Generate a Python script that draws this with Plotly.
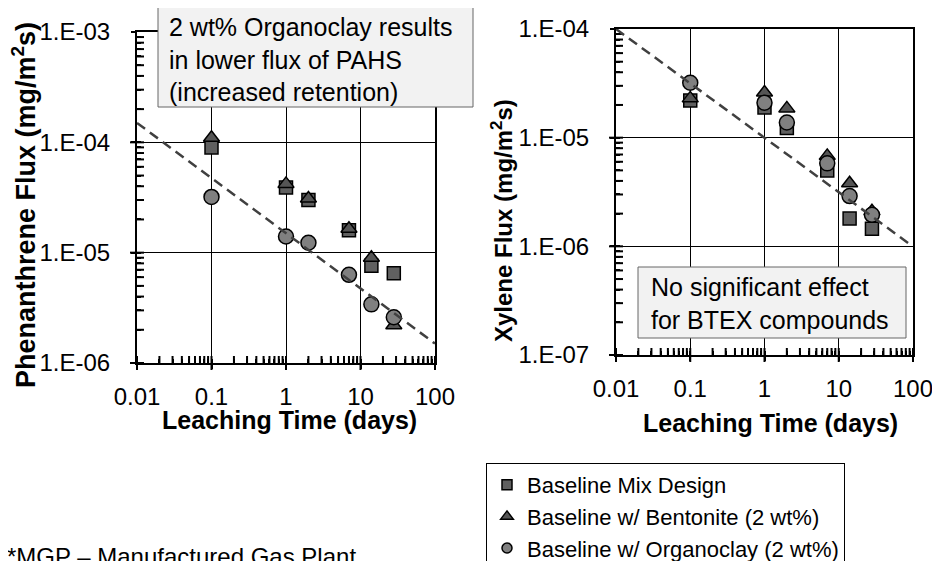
import plotly.graph_objects as go

# leaching times (days)
dias = [0.1, 1, 2, 7, 14, 28]

# Phenanthrene flux (mg/m2s)
fen_base = [9.0e-5, 3.9e-5, 3.0e-5, 1.6e-5, 7.6e-6, 6.5e-6]
fen_bent = [1.1e-4, 4.2e-5, 3.1e-5, 1.65e-5, 9.0e-6, 2.2e-6]
fen_org = [3.2e-5, 1.4e-5, 1.23e-5, 6.3e-6, 3.4e-6, 2.6e-6]

# Xylene flux (mg/m2s)
xil_base = [2.2e-5, 1.9e-5, 1.23e-5, 5.0e-6, 1.8e-6, 1.45e-6]
xil_bent = [2.3e-5, 2.6e-5, 1.86e-5, 6.8e-6, 3.8e-6, 2.1e-6]
xil_org = [3.2e-5, 2.1e-5, 1.38e-5, 5.8e-6, 2.9e-6, 1.95e-6]

# dashed reference lines
ref_fen_t = [0.01, 100]
ref_fen_y = [1.5e-4, 1.5e-6]
ref_xil_t = [0.01, 90]
ref_xil_y = [1.0e-4, 1.05e-6]

nomes = ['Baseline Mix Design', 'Baseline w/ Bentonite (2 wt%)', 'Baseline w/ Organoclay (2 wt%)']
simbolos = ['square', 'triangle-up', 'circle']
cores = ['#606060', '#555555', '#808080']
tamanhos = [13, 14, 15]
tamanhos_legenda = [10, 11, 10]

FONTE = 'Arial, Liberation Sans, sans-serif'
W, H = 940, 561
OFF = 8  # margem do body da pagina


def fx(px):
    return (px - OFF) / W


def fy(py):
    return 1 - (py - OFF) / H


def ticks_log(dec_min, dec_max, rotulo):
    # decadas com rotulo + ticks menores (2..9) sem rotulo
    vals, textos = [], []
    for e in range(dec_min, dec_max + 1):
        vals.append(10.0 ** e)
        textos.append(rotulo(e))
        if e < dec_max:
            for k in range(2, 10):
                vals.append(k * 10.0 ** e)
                textos.append('')
    return vals, textos


def rot_x(e):
    return {-2: '0.01', -1: '0.1', 0: '1', 1: '10', 2: '100'}[e]


def rot_y(e):
    return '1.E-%02d' % (-e)


fig = go.Figure()


# marcas de escala desenhadas como marcadores de linha sobre os eixos
def marcas_eixo(xa, ya, dec_x, dec_y):
    xmin, ymin = 10.0 ** dec_x[0], 10.0 ** dec_y[0]
    menores_x = [v for v, t in zip(*ticks_log(*dec_x, rot_x)) if t == '']
    menores_y = [v for v, t in zip(*ticks_log(*dec_y, rot_y)) if t == '']
    maiores_x = [10.0 ** e for e in range(dec_x[0], dec_x[1] + 1)]
    maiores_y = [10.0 ** e for e in range(dec_y[0], dec_y[1] + 1)]
    estilo = dict(color='black', size=10, line=dict(color='black', width=2))
    for xs, ys, simb, clip in [(menores_x, [ymin] * len(menores_x), 'line-ns', True),
                               ([xmin] * len(menores_y), menores_y, 'line-ew', True),
                               (maiores_x, [ymin] * len(maiores_x), 'line-ns', False),
                               ([xmin] * len(maiores_y), maiores_y, 'line-ew', False)]:
        fig.add_trace(go.Scatter(x=xs, y=ys, mode='markers', cliponaxis=clip,
                                 marker=dict(symbol=simb, **estilo), hoverinfo='skip',
                                 showlegend=False, xaxis=xa, yaxis=ya))


marcas_eixo('x', 'y', (-2, 2), (-6, -3))
marcas_eixo('x2', 'y2', (-2, 2), (-7, -4))

series = [(fen_base, xil_base), (fen_bent, xil_bent), (fen_org, xil_org)]
for i, (fen, xil) in enumerate(series):
    marcador = dict(symbol=simbolos[i], size=tamanhos[i], color=cores[i],
                    line=dict(color='black', width=1.5))
    fig.add_trace(go.Scatter(x=dias, y=fen, mode='markers', marker=marcador,
                             name=nomes[i], showlegend=False, xaxis='x', yaxis='y'))
    fig.add_trace(go.Scatter(x=dias, y=xil, mode='markers', marker=marcador,
                             name=nomes[i], showlegend=False, xaxis='x2', yaxis='y2'))

# entradas da legenda (marcadores menores, como no original)
for i in range(3):
    fig.add_trace(go.Scatter(x=[None], y=[None], mode='markers', name=nomes[i],
                             marker=dict(symbol=simbolos[i], size=tamanhos_legenda[i], color=cores[i],
                                         line=dict(color='black', width=1.5)),
                             xaxis='x', yaxis='y'))

# linhas tracejadas nos eixos sobrepostos (grade)
linha = dict(color='#404040', width=2.5, dash='10px,6px')
fig.add_trace(go.Scatter(x=ref_fen_t, y=ref_fen_y, mode='lines', line=linha,
                         showlegend=False, xaxis='x3', yaxis='y3'))
fig.add_trace(go.Scatter(x=ref_xil_t, y=ref_xil_y, mode='lines', line=linha,
                         showlegend=False, xaxis='x4', yaxis='y4'))


def eixo_principal(dominio, ancora, dec_min, dec_max, rotulo, recuo):
    vals, textos = ticks_log(dec_min, dec_max, rotulo)
    return dict(type='log', range=[dec_min, dec_max], domain=dominio, anchor=ancora,
                tickmode='array', tickvals=vals, ticktext=textos,
                ticks='inside', ticklen=4, tickwidth=1.5, tickcolor='black',
                ticklabelstandoff=recuo, automargin=False,
                showline=True, linewidth=2, linecolor='black', mirror=True,
                showgrid=False, zeroline=False,
                tickfont=dict(size=24, color='black'))


def eixo_grade(base, ancora, dec_min, dec_max, lado):
    return dict(type='log', range=[dec_min, dec_max], overlaying=base, anchor=ancora, side=lado,
                tickmode='array', tickvals=[10.0 ** e for e in range(dec_min, dec_max + 1)],
                showticklabels=False, ticks='outside', ticklen=5, tickwidth=2,
                tickcolor='black', showgrid=True, gridcolor='black', gridwidth=1,
                showline=False, zeroline=False, automargin=False)


fig.update_layout(
    width=W, height=H,
    margin=dict(l=0, r=0, t=0, b=0, autoexpand=False),
    paper_bgcolor='white', plot_bgcolor='white',
    font=dict(family=FONTE, color='black'),
    xaxis=eixo_principal([fx(137), fx(435)], 'y', -2, 2, rot_x, 11),
    yaxis=eixo_principal([fy(363), fy(32)], 'x', -6, -3, rot_y, 20),
    xaxis2=eixo_principal([fx(616), fx(913)], 'y2', -2, 2, rot_x, 11),
    yaxis2=eixo_principal([fy(355), fy(29)], 'x2', -7, -4, rot_y, 20),
    xaxis3=eixo_grade('x', 'y3', -2, 2, 'bottom'),
    yaxis3=eixo_grade('y', 'x3', -6, -3, 'left'),
    xaxis4=eixo_grade('x2', 'y4', -2, 2, 'bottom'),
    yaxis4=eixo_grade('y2', 'x4', -7, -4, 'left'),
    legend=dict(x=fx(486), y=fy(463), xanchor='left', yanchor='top',
                bordercolor='black', borderwidth=1, bgcolor='white',
                font=dict(size=22, color='black'), tracegroupgap=0),
    showlegend=True,
)

# caixas de texto
fig.add_shape(type='rect', xref='paper', yref='paper', x0=fx(158), x1=fx(473),
              y0=fy(107), y1=fy(6), fillcolor='#f2f2f2', line=dict(color='#666666', width=1),
              layer='above')
fig.add_shape(type='rect', xref='paper', yref='paper', x0=fx(638), x1=fx(906),
              y0=fy(338), y1=fy(267), fillcolor='#f2f2f2', line=dict(color='#666666', width=1),
              layer='above')

anots = [
    dict(text='2 wt% Organoclay results<br>in lower flux of PAHS<br>(increased retention)',
         x=fx(167), y=fy(59), xanchor='left', yanchor='middle', align='left', font=dict(size=25)),
    dict(text='No significant effect<br>for BTEX compounds',
         x=fx(649), y=fy(303), xanchor='left', yanchor='middle', align='left', font=dict(size=25)),
    dict(text='<b>Leaching Time (days)</b>', x=fx(289), y=fy(420),
         xanchor='center', yanchor='middle', font=dict(size=25)),
    dict(text='<b>Leaching Time (days)</b>', x=fx(770), y=fy(423),
         xanchor='center', yanchor='middle', font=dict(size=25)),
    dict(text='<b>Phenanthrene Flux (mg/m<sup>2</sup>s)</b>', x=fx(24), y=fy(205),
         xanchor='center', yanchor='middle', textangle=-90, font=dict(size=27)),
    dict(text='<b>Xylene Flux (mg/m<sup>2</sup>s)</b>', x=fx(502), y=fy(221),
         xanchor='center', yanchor='middle', textangle=-90, font=dict(size=24)),
    dict(text='*MGP – Manufactured Gas Plant', x=fx(5), y=fy(541),
         xanchor='left', yanchor='top', align='left', font=dict(size=24)),
]
for a in anots:
    a.update(xref='paper', yref='paper', showarrow=False)
    a['font'].update(family=FONTE, color='black')
    fig.add_annotation(**a)

fig.write_html("out.html")
